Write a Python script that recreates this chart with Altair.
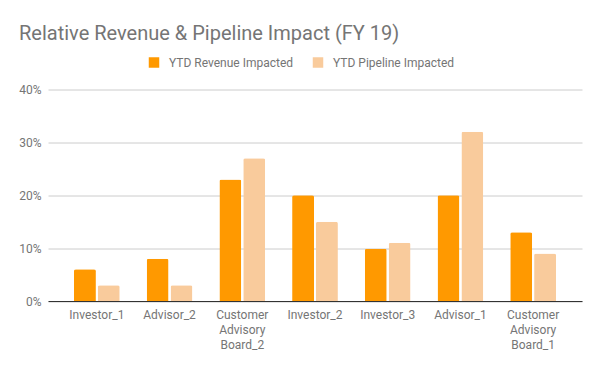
import altair as alt
import pandas as pd

categories = ["Investor_1", "Advisor_2", "Customer Advisory Board_2", "Investor_2",
              "Investor_3", "Advisor_1", "Customer Advisory Board_1"]
revenue = [0.06, 0.08, 0.23, 0.20, 0.099, 0.20, 0.13]
pipeline = [0.03, 0.03, 0.27, 0.15, 0.11, 0.32, 0.09]
series = ["YTD Revenue Impacted", "YTD Pipeline Impacted"]
colors = ["#FF9900", "#F9CB9C"]

rows = []
for c, r, p in zip(categories, revenue, pipeline):
    rows.append({"cat": c, "series": series[0], "value": r})
    rows.append({"cat": c, "series": series[1], "value": p})
df = pd.DataFrame(rows)

FONT = "Roboto"

chart = alt.Chart(df).mark_bar(cornerRadiusTopLeft=2, cornerRadiusTopRight=2).encode(
    x=alt.X("cat:N", sort=categories, title=None,
            scale=alt.Scale(paddingInner=0.37, paddingOuter=0.357),
            axis=alt.Axis(labelAngle=0, ticks=False, labelPadding=8, domainColor="#333333",
                          domainWidth=1, labelExpr="split(datum.label, ' ')",
                          labelLineHeight=15, labelFont=FONT, labelFontSize=12,
                          labelColor="#757575", labelLimit=200)),
    xOffset=alt.XOffset("series:N", sort=series,
                        scale=alt.Scale(paddingInner=0.08, paddingOuter=0)),
    y=alt.Y("value:Q", title=None,
            scale=alt.Scale(domain=[0, 0.4], nice=False),
            axis=alt.Axis(format=".0%", values=[0, 0.1, 0.2, 0.3, 0.4], domain=False,
                          ticks=False, labelPadding=7, gridColor="#CCCCCC",
                          labelFont=FONT, labelFontSize=12, labelColor="#757575")),
    color=alt.Color("series:N", sort=series,
                    scale=alt.Scale(domain=series, range=colors),
                    legend=alt.Legend(title=None, orient="none", direction="horizontal",
                                      legendX=100, legendY=-33, symbolType="square",
                                      symbolSize=110, symbolStrokeWidth=0,
                                      labelFont=FONT, labelFontSize=12,
                                      labelColor="#757575", labelOffset=9,
                                      columnPadding=18)),
).properties(
    width=534,
    height=211.5,
    title=alt.Title("Relative Revenue & Pipeline Impact (FY 19)", anchor="start",
                    frame="group", font=FONT, fontSize=20, fontWeight="normal",
                    color="#757575", dx=-29, offset=13),
    autosize=alt.AutoSizeParams(type="none"),
    padding={"left": 40, "top": 81.5, "right": 10, "bottom": 60},
).configure_view(stroke=None)

chart.save("out.html", embed_options={"renderer": "svg", "actions": False})
